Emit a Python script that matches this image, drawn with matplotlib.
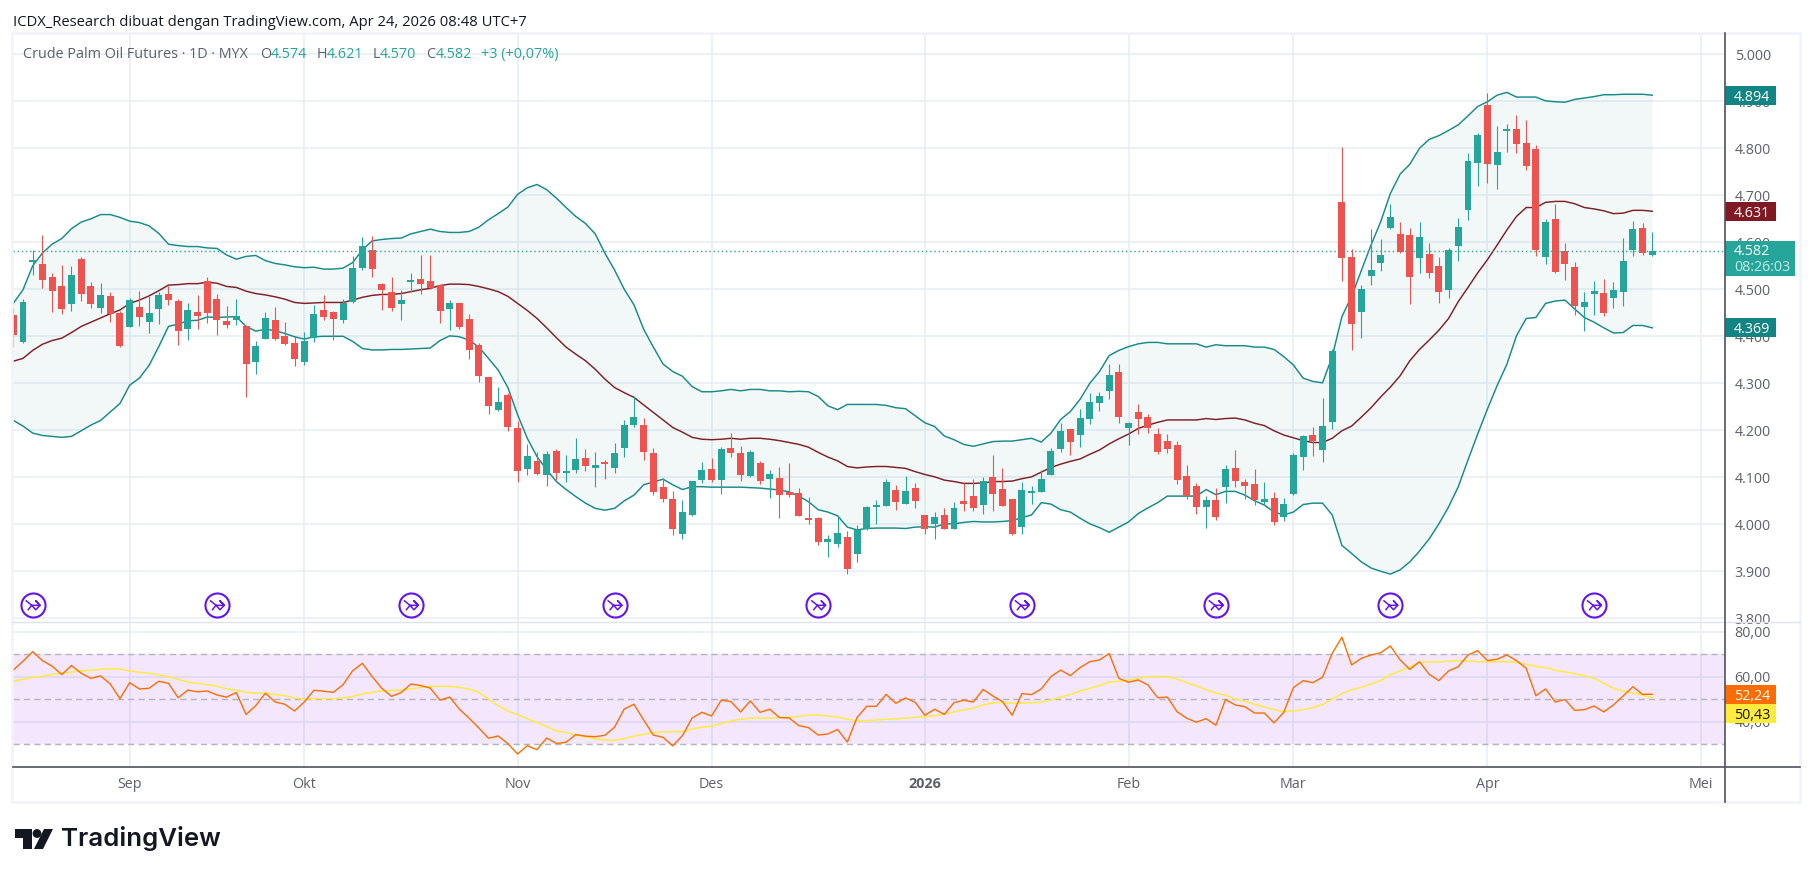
import matplotlib
matplotlib.use('Agg')
import matplotlib.pyplot as plt
import numpy as np
from matplotlib.lines import Line2D
from matplotlib.patches import Circle, Polygon, Rectangle
from matplotlib.path import Path
from matplotlib.transforms import Affine2D

# ------------------------------------------------------------------
# DATA
# ------------------------------------------------------------------
opens = [
    4.445, 4.387, 4.559, 4.554, 4.526, 4.507, 4.469, 4.565, 4.507, 4.460,
    4.486, 4.450, 4.420, 4.462, 4.430, 4.458, 4.490, 4.475, 4.416, 4.452,
    4.518, 4.479, 4.433, 4.435, 4.422, 4.345, 4.394, 4.435, 4.401, 4.386,
    4.345, 4.396, 4.456, 4.452, 4.435, 4.473, 4.545, 4.584, 4.511, 4.494,
    4.469, 4.516, 4.522, 4.518, 4.509, 4.458, 4.471, 4.437, 4.382, 4.313,
    4.243, 4.275, 4.205, 4.118, 4.135, 4.105, 4.156, 4.109, 4.116, 4.141,
    4.120, 4.133, 4.120, 4.162, 4.211, 4.211, 4.152, 4.079, 4.054, 3.979,
    4.020, 4.094, 4.118, 4.094, 4.162, 4.152, 4.103, 4.130, 4.096, 4.099,
    4.069, 4.067, 4.011, 4.013, 3.962, 3.958, 3.973, 3.937, 3.990, 4.037,
    4.039, 4.073, 4.043, 4.077, 4.020, 4.001, 4.020, 3.990, 4.050, 4.060,
    4.041, 4.101, 4.075, 4.054, 3.994, 4.067, 4.069, 4.105, 4.160, 4.203,
    4.190, 4.224, 4.258, 4.284, 4.324, 4.205, 4.239, 4.228, 4.192, 4.177,
    4.169, 4.103, 4.082, 4.037, 4.052, 4.079, 4.120, 4.090, 4.086, 4.048,
    4.056, 4.016, 4.065, 4.143, 4.190, 4.158, 4.218, 4.686, 4.569, 4.452,
    4.528, 4.556, 4.630, 4.618, 4.616, 4.567, 4.575, 4.550, 4.499, 4.592,
    4.669, 4.769, 4.892, 4.765, 4.837, 4.841, 4.811, 4.799, 4.569, 4.650,
    4.582, 4.548, 4.462, 4.490, 4.492, 4.482, 4.494, 4.584, 4.630, 4.574,
]
highs = [
    4.460, 4.479, 4.584, 4.616, 4.535, 4.552, 4.550, 4.569, 4.516, 4.513,
    4.494, 4.454, 4.482, 4.496, 4.486, 4.494, 4.507, 4.479, 4.471, 4.488,
    4.526, 4.490, 4.465, 4.479, 4.422, 4.390, 4.452, 4.462, 4.430, 4.401,
    4.409, 4.467, 4.488, 4.454, 4.479, 4.571, 4.611, 4.613, 4.513, 4.526,
    4.499, 4.535, 4.573, 4.573, 4.509, 4.477, 4.471, 4.448, 4.386, 4.313,
    4.292, 4.279, 4.220, 4.171, 4.154, 4.156, 4.160, 4.148, 4.184, 4.160,
    4.154, 4.137, 4.173, 4.222, 4.273, 4.226, 4.162, 4.099, 4.071, 4.052,
    4.092, 4.133, 4.141, 4.165, 4.194, 4.167, 4.158, 4.135, 4.116, 4.122,
    4.130, 4.077, 4.058, 4.016, 3.977, 4.018, 3.986, 3.999, 4.039, 4.052,
    4.096, 4.084, 4.103, 4.088, 4.020, 4.026, 4.035, 4.048, 4.088, 4.096,
    4.101, 4.148, 4.120, 4.054, 4.090, 4.082, 4.116, 4.162, 4.216, 4.203,
    4.245, 4.279, 4.282, 4.341, 4.341, 4.218, 4.256, 4.235, 4.205, 4.192,
    4.177, 4.126, 4.088, 4.060, 4.077, 4.126, 4.158, 4.096, 4.118, 4.090,
    4.069, 4.056, 4.152, 4.190, 4.207, 4.269, 4.373, 4.803, 4.586, 4.509,
    4.628, 4.607, 4.682, 4.643, 4.630, 4.643, 4.599, 4.569, 4.588, 4.652,
    4.790, 4.833, 4.918, 4.848, 4.852, 4.871, 4.860, 4.807, 4.650, 4.682,
    4.599, 4.558, 4.494, 4.518, 4.522, 4.516, 4.609, 4.645, 4.641, 4.621,
]
lows = [
    4.378, 4.385, 4.530, 4.503, 4.452, 4.448, 4.454, 4.475, 4.460, 4.450,
    4.430, 4.377, 4.420, 4.422, 4.407, 4.426, 4.467, 4.382, 4.392, 4.416,
    4.428, 4.403, 4.418, 4.424, 4.271, 4.320, 4.394, 4.392, 4.382, 4.337,
    4.339, 4.388, 4.435, 4.392, 4.428, 4.471, 4.541, 4.526, 4.456, 4.454,
    4.435, 4.494, 4.490, 4.501, 4.428, 4.413, 4.416, 4.352, 4.303, 4.235,
    4.241, 4.199, 4.090, 4.105, 4.105, 4.082, 4.094, 4.090, 4.109, 4.113,
    4.079, 4.096, 4.109, 4.143, 4.207, 4.137, 4.062, 4.048, 3.977, 3.969,
    4.018, 4.088, 4.090, 4.065, 4.143, 4.092, 4.101, 4.086, 4.056, 4.013,
    4.058, 4.018, 4.001, 3.956, 3.930, 3.952, 3.894, 3.920, 3.988, 4.001,
    4.039, 4.030, 4.043, 4.035, 3.979, 3.969, 3.990, 3.990, 4.028, 4.028,
    4.022, 4.028, 4.039, 3.977, 3.979, 4.043, 4.069, 4.105, 4.154, 4.148,
    4.165, 4.213, 4.241, 4.267, 4.216, 4.169, 4.192, 4.194, 4.150, 4.152,
    4.086, 4.054, 4.022, 3.992, 4.009, 4.046, 4.079, 4.054, 4.041, 4.041,
    3.999, 4.007, 4.062, 4.116, 4.145, 4.133, 4.203, 4.518, 4.371, 4.396,
    4.509, 4.539, 4.628, 4.577, 4.469, 4.535, 4.524, 4.471, 4.482, 4.560,
    4.648, 4.720, 4.726, 4.713, 4.792, 4.790, 4.754, 4.571, 4.554, 4.535,
    4.520, 4.445, 4.411, 4.445, 4.443, 4.460, 4.465, 4.571, 4.573, 4.570,
]
closes = [
    4.403, 4.473, 4.560, 4.520, 4.496, 4.458, 4.530, 4.490, 4.469, 4.488,
    4.448, 4.379, 4.477, 4.441, 4.450, 4.488, 4.477, 4.411, 4.456, 4.443,
    4.450, 4.435, 4.424, 4.443, 4.341, 4.379, 4.439, 4.394, 4.384, 4.352,
    4.390, 4.448, 4.441, 4.437, 4.471, 4.545, 4.592, 4.543, 4.499, 4.460,
    4.477, 4.520, 4.511, 4.503, 4.454, 4.471, 4.420, 4.371, 4.316, 4.252,
    4.260, 4.207, 4.113, 4.145, 4.107, 4.150, 4.109, 4.113, 4.139, 4.124,
    4.126, 4.128, 4.152, 4.211, 4.228, 4.154, 4.069, 4.054, 3.990, 4.026,
    4.092, 4.116, 4.094, 4.160, 4.152, 4.105, 4.154, 4.092, 4.107, 4.062,
    4.062, 4.018, 4.009, 3.962, 3.969, 3.982, 3.905, 3.988, 4.037, 4.039,
    4.090, 4.048, 4.071, 4.050, 3.990, 4.016, 3.990, 4.035, 4.043, 4.035,
    4.092, 4.065, 4.039, 3.979, 4.073, 4.069, 4.096, 4.156, 4.199, 4.175,
    4.226, 4.260, 4.273, 4.318, 4.228, 4.216, 4.224, 4.205, 4.154, 4.160,
    4.094, 4.060, 4.037, 4.052, 4.016, 4.118, 4.092, 4.082, 4.052, 4.054,
    4.005, 4.043, 4.148, 4.188, 4.177, 4.209, 4.369, 4.567, 4.426, 4.501,
    4.541, 4.573, 4.654, 4.579, 4.526, 4.611, 4.535, 4.494, 4.584, 4.633,
    4.773, 4.828, 4.767, 4.792, 4.839, 4.809, 4.762, 4.584, 4.643, 4.537,
    4.554, 4.465, 4.473, 4.496, 4.450, 4.499, 4.560, 4.628, 4.577, 4.582,
]
bb_upper = [
    4.470, 4.499, 4.550, 4.577, 4.596, 4.608, 4.629, 4.643, 4.650, 4.659,
    4.659, 4.653, 4.645, 4.642, 4.635, 4.619, 4.596, 4.593, 4.591, 4.591,
    4.588, 4.587, 4.573, 4.564, 4.570, 4.572, 4.561, 4.555, 4.552, 4.548,
    4.546, 4.547, 4.543, 4.543, 4.545, 4.557, 4.584, 4.603, 4.606, 4.608,
    4.609, 4.618, 4.623, 4.628, 4.623, 4.621, 4.621, 4.623, 4.632, 4.648,
    4.661, 4.675, 4.702, 4.716, 4.723, 4.712, 4.694, 4.674, 4.655, 4.640,
    4.618, 4.577, 4.541, 4.500, 4.467, 4.415, 4.377, 4.341, 4.325, 4.315,
    4.293, 4.282, 4.282, 4.284, 4.287, 4.284, 4.287, 4.287, 4.284, 4.284,
    4.282, 4.283, 4.282, 4.272, 4.252, 4.244, 4.255, 4.255, 4.255, 4.255,
    4.253, 4.248, 4.246, 4.231, 4.216, 4.208, 4.188, 4.180, 4.170, 4.166,
    4.171, 4.176, 4.177, 4.177, 4.180, 4.183, 4.175, 4.194, 4.223, 4.240,
    4.266, 4.300, 4.325, 4.359, 4.370, 4.378, 4.384, 4.387, 4.387, 4.384,
    4.384, 4.384, 4.384, 4.377, 4.382, 4.380, 4.380, 4.380, 4.377, 4.377,
    4.372, 4.357, 4.339, 4.311, 4.304, 4.301, 4.357, 4.442, 4.485, 4.540,
    4.594, 4.644, 4.704, 4.745, 4.766, 4.800, 4.819, 4.827, 4.838, 4.850,
    4.869, 4.889, 4.899, 4.913, 4.919, 4.909, 4.909, 4.909, 4.901, 4.899,
    4.898, 4.904, 4.907, 4.910, 4.914, 4.914, 4.915, 4.915, 4.915, 4.913,
]
bb_middle = [
    4.347, 4.353, 4.370, 4.383, 4.391, 4.396, 4.408, 4.421, 4.430, 4.439,
    4.448, 4.456, 4.470, 4.477, 4.486, 4.497, 4.509, 4.510, 4.512, 4.512,
    4.515, 4.513, 4.506, 4.504, 4.496, 4.491, 4.488, 4.484, 4.479, 4.472,
    4.470, 4.471, 4.472, 4.472, 4.472, 4.477, 4.483, 4.487, 4.489, 4.489,
    4.491, 4.495, 4.499, 4.502, 4.508, 4.511, 4.511, 4.510, 4.506, 4.501,
    4.495, 4.485, 4.470, 4.455, 4.438, 4.418, 4.397, 4.377, 4.362, 4.348,
    4.330, 4.309, 4.291, 4.280, 4.270, 4.254, 4.238, 4.222, 4.206, 4.196,
    4.185, 4.181, 4.180, 4.181, 4.183, 4.181, 4.183, 4.183, 4.181, 4.178,
    4.174, 4.170, 4.164, 4.153, 4.143, 4.135, 4.123, 4.120, 4.122, 4.123,
    4.123, 4.121, 4.119, 4.112, 4.106, 4.101, 4.094, 4.091, 4.087, 4.087,
    4.088, 4.091, 4.091, 4.092, 4.097, 4.101, 4.111, 4.121, 4.128, 4.134,
    4.139, 4.149, 4.158, 4.171, 4.182, 4.192, 4.204, 4.211, 4.217, 4.222,
    4.222, 4.222, 4.222, 4.225, 4.223, 4.225, 4.226, 4.222, 4.215, 4.210,
    4.199, 4.190, 4.184, 4.178, 4.174, 4.174, 4.183, 4.199, 4.209, 4.228,
    4.248, 4.271, 4.292, 4.316, 4.348, 4.372, 4.392, 4.413, 4.438, 4.474,
    4.504, 4.535, 4.563, 4.594, 4.626, 4.655, 4.674, 4.674, 4.685, 4.687,
    4.687, 4.682, 4.674, 4.671, 4.667, 4.661, 4.662, 4.668, 4.668, 4.666,
]
bb_lower = [
    4.221, 4.209, 4.194, 4.189, 4.187, 4.185, 4.187, 4.199, 4.211, 4.221,
    4.239, 4.257, 4.296, 4.311, 4.338, 4.378, 4.421, 4.426, 4.433, 4.434,
    4.441, 4.440, 4.441, 4.442, 4.421, 4.411, 4.415, 4.412, 4.406, 4.399,
    4.394, 4.399, 4.400, 4.400, 4.400, 4.389, 4.374, 4.371, 4.371, 4.372,
    4.372, 4.373, 4.374, 4.375, 4.391, 4.401, 4.399, 4.392, 4.377, 4.353,
    4.328, 4.291, 4.233, 4.183, 4.144, 4.116, 4.091, 4.074, 4.059, 4.045,
    4.034, 4.030, 4.034, 4.050, 4.062, 4.084, 4.090, 4.096, 4.084, 4.074,
    4.080, 4.080, 4.079, 4.079, 4.079, 4.079, 4.078, 4.077, 4.075, 4.073,
    4.069, 4.060, 4.048, 4.031, 4.026, 4.018, 3.994, 3.988, 3.991, 3.992,
    3.992, 3.992, 3.991, 3.994, 3.995, 3.994, 4.001, 4.001, 4.004, 4.006,
    4.005, 4.005, 4.006, 4.008, 4.014, 4.020, 4.046, 4.043, 4.031, 4.026,
    4.013, 4.001, 3.993, 3.983, 3.994, 4.005, 4.023, 4.035, 4.046, 4.060,
    4.060, 4.060, 4.060, 4.074, 4.063, 4.070, 4.070, 4.062, 4.050, 4.041,
    4.026, 4.020, 4.026, 4.042, 4.045, 4.045, 4.020, 3.955, 3.938, 3.920,
    3.907, 3.900, 3.894, 3.903, 3.920, 3.943, 3.969, 4.001, 4.037, 4.080,
    4.137, 4.192, 4.245, 4.295, 4.340, 4.401, 4.438, 4.440, 4.470, 4.475,
    4.477, 4.458, 4.440, 4.430, 4.418, 4.407, 4.408, 4.423, 4.423, 4.418,
]
rsi = [
    63.0, 66.9, 71.2, 67.2, 64.8, 61.0, 65.0, 61.6, 59.3, 60.4,
    56.8, 50.3, 57.4, 54.6, 54.9, 58.0, 57.1, 50.7, 54.1, 53.3,
    53.7, 51.9, 51.0, 53.0, 43.2, 47.2, 52.7, 48.8, 47.8, 44.8,
    48.8, 54.0, 53.6, 53.1, 56.5, 62.7, 66.0, 60.1, 54.9, 51.3,
    53.0, 56.8, 56.1, 55.0, 49.6, 51.0, 45.6, 41.6, 37.3, 32.7,
    33.7, 30.3, 25.7, 29.4, 27.6, 32.8, 30.4, 30.9, 34.3, 33.6,
    33.4, 34.0, 37.6, 45.7, 47.8, 40.8, 34.1, 33.1, 29.3, 33.9,
    41.7, 44.2, 42.6, 49.6, 49.0, 44.4, 49.3, 44.2, 45.6, 41.9,
    41.7, 38.3, 37.4, 34.1, 34.6, 36.6, 31.0, 41.9, 46.9, 46.9,
    52.2, 48.2, 50.6, 48.7, 42.9, 45.6, 43.3, 48.5, 49.6, 48.8,
    54.4, 51.5, 49.0, 42.9, 52.5, 52.1, 54.6, 60.1, 63.0, 60.5,
    64.1, 66.7, 67.5, 70.3, 59.3, 57.6, 58.6, 56.4, 50.7, 51.0,
    44.5, 41.6, 39.8, 41.4, 38.5, 49.9, 47.5, 46.7, 43.9, 43.9,
    39.5, 44.2, 55.2, 58.3, 57.4, 59.8, 70.4, 77.6, 65.3, 68.2,
    69.7, 70.7, 73.7, 67.5, 63.3, 66.7, 61.1, 58.3, 62.6, 64.5,
    69.7, 71.6, 67.2, 67.8, 69.7, 67.2, 63.8, 51.6, 54.6, 48.8,
    49.9, 45.1, 45.4, 47.0, 44.4, 47.5, 51.5, 55.6, 52.2, 52.24,
]
rsi_ma = [
    58.1, 58.9, 59.8, 60.2, 61.1, 61.6, 62.1, 62.7, 62.9, 63.3,
    63.5, 63.5, 62.6, 62.0, 61.6, 60.8, 60.1, 58.9, 57.7, 57.1,
    56.5, 55.8, 54.7, 54.0, 53.1, 52.8, 52.7, 52.1, 51.6, 50.6,
    50.1, 50.3, 50.3, 50.3, 50.6, 51.3, 52.4, 53.1, 53.7, 54.0,
    54.1, 54.6, 55.3, 55.8, 55.8, 55.8, 55.3, 54.6, 53.1, 50.1,
    47.2, 44.8, 43.2, 41.4, 39.6, 37.9, 35.9, 35.3, 34.1, 33.3,
    32.5, 31.9, 31.8, 32.5, 33.6, 34.4, 35.2, 35.5, 35.6, 35.6,
    36.8, 37.6, 38.1, 39.2, 40.4, 41.1, 41.7, 41.6, 41.6, 41.9,
    42.1, 42.4, 43.0, 43.0, 42.6, 42.1, 41.1, 40.5, 40.5, 40.8,
    41.1, 41.3, 41.6, 42.0, 42.3, 42.7, 43.5, 44.4, 45.3, 46.1,
    47.5, 48.4, 48.7, 48.2, 48.4, 48.5, 48.7, 49.7, 51.0, 52.1,
    53.6, 54.9, 56.1, 57.6, 58.0, 58.6, 59.3, 60.1, 60.1, 60.1,
    59.0, 57.4, 55.9, 54.3, 52.8, 51.8, 50.1, 49.1, 47.8, 46.6,
    45.4, 44.5, 44.8, 45.4, 46.3, 47.6, 50.1, 52.5, 54.3, 55.3,
    56.7, 58.4, 61.0, 62.6, 64.4, 66.4, 66.6, 66.6, 66.9, 67.2,
    67.0, 66.7, 66.6, 66.7, 66.7, 66.4, 65.6, 64.7, 64.1, 62.9,
    62.2, 61.4, 60.4, 59.3, 57.1, 54.9, 53.7, 52.8, 51.8, 50.7,
]
month_bars = [12, 30, 52, 72, 94, 115, 132, 152, 174]
month_labels = ['Sep', 'Okt', 'Nov', 'Des', '2026', 'Feb', 'Mar', 'Apr', 'Mei']
event_bars = [2, 21, 41, 62, 83, 104, 124, 142, 163]
price_ticks = [3.8, 3.9, 4.0, 4.1, 4.2, 4.3, 4.4, 4.5, 4.6, 4.7, 4.8, 4.9, 5.0]
rsi_ticks = [40, 60, 80]
rsi_levels = [30, 50, 70]
last_price = 4.582
ohlc_values = ['4.574', '4.621', '4.570', '4.582']

# ------------------------------------------------------------------
# LAYOUT & COLOURS
# ------------------------------------------------------------------
W, H = 1814, 877
PANE_L, PANE_R = 13, 1725
MAIN_T, MAIN_B = 33, 622
RSI_B = 767
FRAME_R, FRAME_B = 1800, 802
BAR0_X, BAR_STEP = 13.3, 9.698
XLIM = ((PANE_L - BAR0_X) / BAR_STEP, (PANE_R - BAR0_X) / BAR_STEP)
FONT = 'Open Sans'
TEAL, RED = '#26a69a', '#ef5350'
BB_COL, MID_COL = '#178a8a', '#801f26'
GRID = '#e6edf2'
TEXT = '#5d606b'
AXIS = '#50535e'
plt.rcParams['font.family'] = [FONT, 'DejaVu Sans']

fig = plt.figure(figsize=(W / 100, H / 100), dpi=100, facecolor='white')
PX = Affine2D().scale(1, -1).translate(0, H)  # pixel coordinates, y down


def axes_px(left, top, right, bottom):
    return fig.add_axes([left / W, 1 - bottom / H, (right - left) / W, (bottom - top) / H])


def px_line(x0, y0, x1, y1, color, lw=1.0):
    fig.add_artist(Line2D([x0, x1], [y0, y1], color=color, lw=lw, transform=PX))


def px_text(x, y, s, **kw):
    fig.text(x, y, s, transform=PX, va='center', **kw)


def style_pane(ax):
    ax.set_facecolor('white')
    ax.set_axisbelow(True)
    for side in ax.spines:
        ax.spines[side].set_visible(False)
    ax.set_xlim(*XLIM)
    ax.yaxis.tick_right()
    ax.set_xticks(month_bars)
    ax.tick_params(length=0, labelsize=10.3, labelcolor=TEXT)
    ax.tick_params(axis='y', pad=7)
    ax.grid(True, color=GRID, lw=1.1)


def pill(ax, value, text, bg, fg, right=1775.6, height=19.0, scale=470.0):
    # label box on the price scale, centred on the series' last value
    x0 = 1.0
    x1 = (right - PANE_L) / (PANE_R - PANE_L)
    h = height / scale
    ax.add_patch(Rectangle((x0, value - h / 2), x1 - x0, h, transform=ax.get_yaxis_transform(),
                           facecolor=bg, edgecolor='none', clip_on=False, zorder=6))
    ax.text(1 + (1752 - PANE_R) / (PANE_R - PANE_L), value, text, transform=ax.get_yaxis_transform(),
            color=fg, fontsize=10.3, ha='center', va='center_baseline', clip_on=False, zorder=7)


# ------------------------------------------------------------------
# MAIN PANE
# ------------------------------------------------------------------
ax = axes_px(PANE_L, MAIN_T, PANE_R, MAIN_B)
style_pane(ax)
ax.set_ylim(4.8 - (MAIN_B - 148.3) / 470, 4.8 + (148.3 - MAIN_T) / 470)
ax.set_yticks(price_ticks)
ax.set_yticklabels(['%.3f' % t for t in price_ticks])
ax.set_xticklabels([])

bars = np.arange(len(closes))
o, h, l, c = map(np.array, (opens, highs, lows, closes))
colors = np.where(c >= o, TEAL, RED)

ax.fill_between(bars, bb_lower, bb_upper, color='#138484', alpha=0.05, lw=0, zorder=1)
ax.plot(bars, bb_upper, color=BB_COL, lw=1.05, zorder=2)
ax.plot(bars, bb_lower, color=BB_COL, lw=1.05, zorder=2)
ax.plot(bars, bb_middle, color=MID_COL, lw=1.05, zorder=2)

ax.vlines(bars, l, h, colors=colors, lw=0.8, zorder=3)
# very small bodies still show as a 2px tick
bottoms = np.minimum(o, c)
heights = np.maximum(np.abs(c - o), 0.0035)
ax.bar(bars, heights, bottom=bottoms, width=0.72, color=colors, lw=0, zorder=3)

ax.axhline(last_price, color=TEAL, lw=1.0, ls=(0, (1, 2)), zorder=4)

# purple event markers along the bottom of the pane
event_y = 4.8 - (605.3 - 148.3) / 470
ax.scatter(event_bars, [event_y] * len(event_bars), s=300, facecolor='white', edgecolor='#6414f0',
           lw=1.5, zorder=5)
icon = Path([(-.6, .42), (-.08, 0), (.62, 0), (.26, .38), (.62, 0), (.26, -.38), (-.08, 0), (-.42, -.42)],
            [Path.MOVETO] + [Path.LINETO] * 7)
ax.scatter(event_bars, [event_y] * len(event_bars), s=110, marker=icon, facecolor='none',
           edgecolor='#6414f0', lw=1.1, zorder=6)

pill(ax, bb_upper[-1], '4.894', '#138484', 'white')
pill(ax, bb_middle[-1], '4.631', '#801922', 'white')
pill(ax, bb_lower[-1], '4.369', '#138484', 'white')

# last price box with countdown
ax.add_patch(Rectangle((1725, 241), 70, 35, transform=PX, facecolor=TEAL, edgecolor='none',
                       clip_on=False, zorder=6))
px_text(1752, 251.5, '4.582', color='white', fontsize=10.3, ha='center', zorder=8)
px_text(1762, 267.5, '08:26:03', color='#c8ece8', fontsize=10.3, ha='center', zorder=8)

# ------------------------------------------------------------------
# RSI PANE
# ------------------------------------------------------------------
ax2 = axes_px(PANE_L, MAIN_B, PANE_R, RSI_B)
style_pane(ax2)
ax2.set_ylim(70 - (RSI_B - 654.3) / 2.25, 70 + (654.3 - MAIN_B) / 2.25)
ax2.set_yticks(rsi_ticks)
ax2.set_yticklabels(['%d,00' % t for t in rsi_ticks])
ax2.set_xticklabels(month_labels)
ax2.get_xticklabels()[4].set_fontweight('bold')
ax2.tick_params(axis='x', pad=7.5)

ax2.axhspan(rsi_levels[0], rsi_levels[2], color='#9e2bf0', alpha=0.115, lw=0, zorder=1)
for lev in rsi_levels:
    ax2.axhline(lev, color='#b2b5be', lw=1.0, ls=(0, (4.5, 3)), zorder=2)
ax2.plot(bars, rsi_ma, color='#ffeb3b', lw=1.05, zorder=3)
ax2.plot(bars, rsi, color='#ff6d00', lw=1.0, zorder=4)

# the two boxes stack below each other, as the scale keeps them apart
pill(ax2, rsi[-1], '52,24', '#ff6d00', 'white', scale=2.25)
pill(ax2, rsi[-1] - 19.0 / 2.25, '50,43', '#ffeb3b', '#131722', scale=2.25)

# ------------------------------------------------------------------
# FRAME, HEADER, LOGO
# ------------------------------------------------------------------
fig.add_artist(Rectangle((12, 33), FRAME_R - 12, FRAME_B - 33, transform=PX, facecolor='none',
                         edgecolor='#f0f3fa', lw=1.8))
px_line(PANE_L, MAIN_B, FRAME_R, MAIN_B, '#e0e3eb', 1.0)
px_line(PANE_L, RSI_B, FRAME_R, RSI_B, AXIS, 1.2)
px_line(PANE_R, MAIN_T, PANE_R, FRAME_B, AXIS, 1.2)

px_text(13, 22.5, 'ICDX_Research dibuat dengan TradingView.com, Apr 24, 2026 08:48 UTC+7',
        color='#131722', fontsize=10.6)

LEG = 10.4
LEG_Y = 54.5
px_text(23, LEG_Y, 'Crude Palm Oil Futures · 1D · MYX', color=TEXT, fontsize=LEG)
for xl, xv, name, val in zip([260, 316.5, 372.4, 426], [270.6, 326.4, 380, 435.5], 'OHLC', ohlc_values):
    px_text(xl, LEG_Y, name, color=TEXT, fontsize=LEG)
    px_text(xv, LEG_Y, val, color=TEAL, fontsize=LEG)
px_text(481.4, LEG_Y, '+3 (+0,07%)', color=TEAL, fontsize=LEG)

INK = '#131722'
fig.add_artist(Polygon([(15, 829), (32, 829), (32, 849), (23, 849), (23, 838), (15, 838)],
                       transform=PX, facecolor=INK, edgecolor='none'))
fig.add_artist(Circle((37, 833.5), 4.4, transform=PX, facecolor=INK, edgecolor='none'))
fig.add_artist(Polygon([(44, 829), (53, 829), (43, 849), (34, 849)], transform=PX,
                       facecolor=INK, edgecolor='none'))
px_text(61, 838.5, 'TradingView', color=INK, fontsize=18.6, fontweight='semibold',
        family=['Inter', 'DejaVu Sans'])

fig.savefig('out.png', dpi=100, facecolor='white')
